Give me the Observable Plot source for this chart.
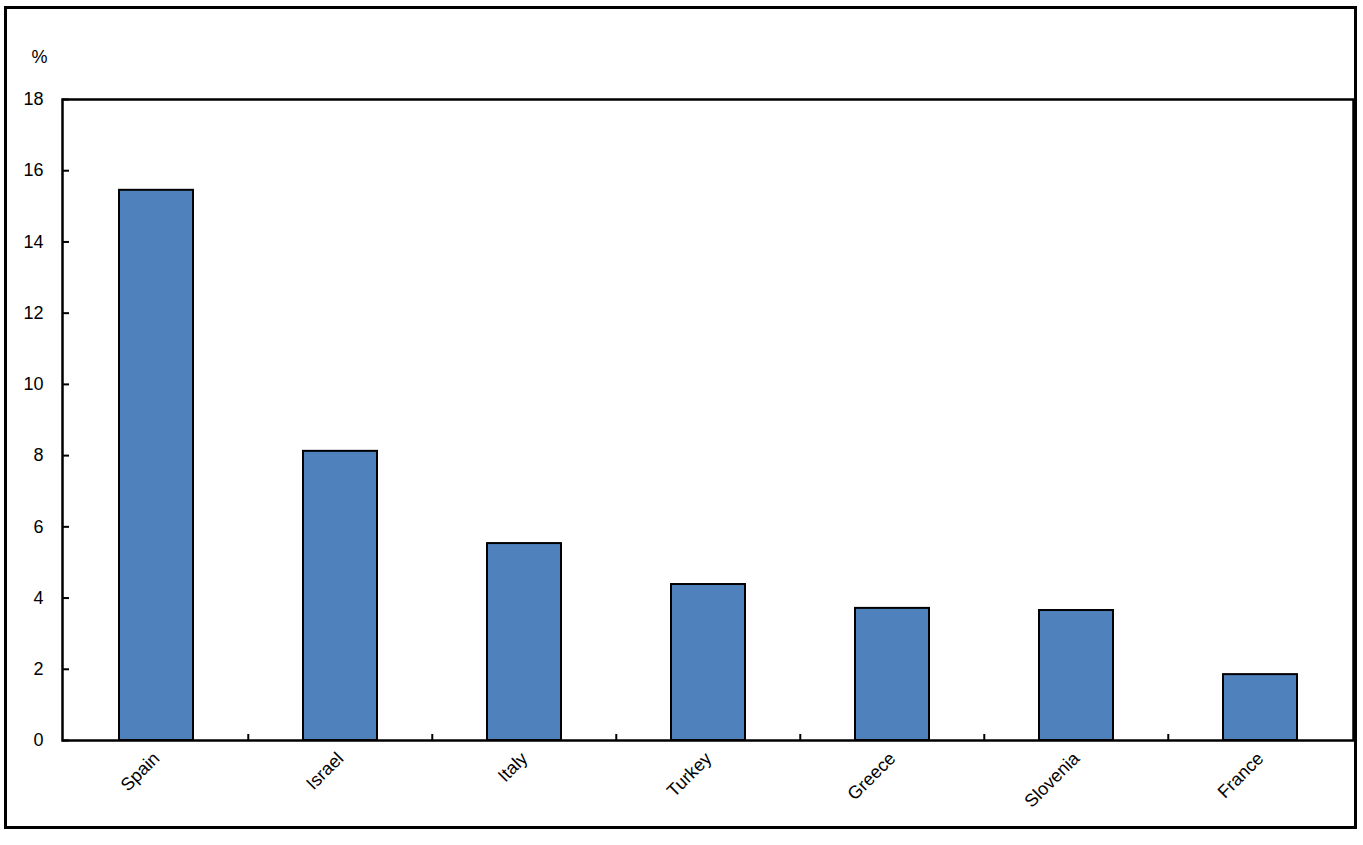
<!DOCTYPE html>
<html>
<head>
<meta charset="utf-8">
<script src="https://cdn.jsdelivr.net/npm/d3@7"></script>
<script src="https://cdn.jsdelivr.net/npm/@observablehq/plot@0.6"></script>
<style>
  html, body { margin: 0; padding: 0; background: #fff; }
  #box { position: absolute; left: 4px; top: 6px; width: 1347px; height: 817px; border: 3px solid #000; }
  #box svg { display: block; }
</style>
</head>
<body>
<div id="box"></div>
<script>
const countries = ["Spain", "Israel", "Italy", "Turkey", "Greece", "Slovenia", "France"];
const values = [15.45, 8.12, 5.53, 4.38, 3.71, 3.65, 1.85];
const yTicks = [0, 2, 4, 6, 8, 10, 12, 14, 16, 18];
const yUnit = "%";

const data = countries.map((c, i) => ({country: c, value: values[i]}));

const W = 1347, H = 817;
const mL = 55, mR = 1, mT = 90, mB = 86;
const plotW = W - mL - mR, plotH = H - mT - mB;
const step = plotW / countries.length;
const font = "'Liberation Sans', Arial, sans-serif";

const chart = Plot.plot({
  width: W,
  height: H,
  marginLeft: mL,
  marginRight: mR,
  marginTop: mT,
  marginBottom: mB,
  style: {fontFamily: font, fontSize: "18px", color: "#000", background: "#fff"},
  x: {domain: countries, paddingInner: 0.6, paddingOuter: 0.3, label: null},
  y: {domain: [0, 18], label: null},
  marks: [
    Plot.barY(data, {x: "country", y: "value", fill: "#4F81BD", stroke: "#000", strokeWidth: 2}),
    Plot.tickY(yTicks, {y: d => d, stroke: "#000", strokeWidth: 2, insetRight: plotW - 7}),
    Plot.tickX(countries.slice(1), {x: d => d, dx: -step / 2, stroke: "#000", strokeWidth: 2, insetTop: plotH - 6}),
    Plot.axisY({ticks: yTicks, tickSize: 0, tickPadding: 19, fontSize: 18, label: null}),
    Plot.axisX({tickSize: 0, tickRotate: -45, tickPadding: 15, fontSize: 18, label: null}),
    Plot.frame({stroke: "#000", strokeWidth: 2.5}),
    Plot.text([yUnit], {frameAnchor: "top-left", dx: -23, dy: -49, fontSize: 18, textAnchor: "middle"})
  ]
});
document.getElementById("box").appendChild(chart);
</script>
</body>
</html>
